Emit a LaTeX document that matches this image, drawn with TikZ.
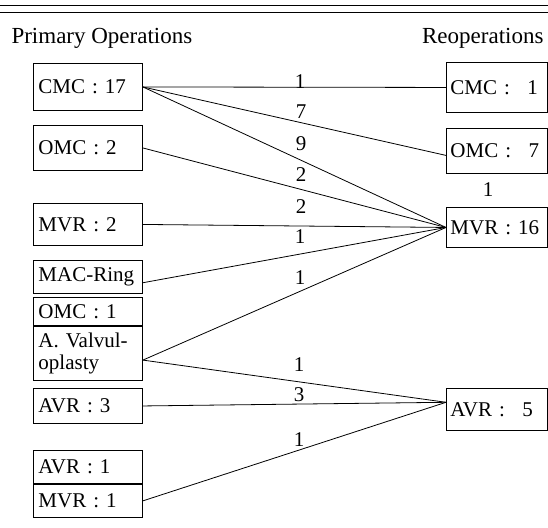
\documentclass[tikz,border=0pt]{standalone}
\usepackage{fontspec}
\setmainfont{Liberation Serif}
\usetikzlibrary{positioning}
\exhyphenpenalty=10000

\begin{document}
\begin{tikzpicture}[x=1pt, y=-1pt,
  font=\fontsize{21}{22.5}\selectfont,
  pbox/.style={draw, line width=0.9pt, anchor=north west, inner xsep=5pt, inner ysep=0pt, text width=99pt, align=left},
  rbox/.style={draw, line width=0.9pt, anchor=north west, inner xsep=4pt, inner ysep=0pt, text width=93pt, align=left},
  ln/.style={line width=0.8pt},
  num/.style={inner sep=0pt}]
\useasboundingbox (0,0) rectangle (548,527);
% ---- double rule and headings
\draw[line width=0.7pt] (0,5) -- (548,5);
\draw[line width=1.3pt] (0,12.5) -- (548,12.5);
\node[anchor=base west, font=\fontsize{23}{25}\selectfont] (hprim) at (8,44) {Primary Operations};
\node[anchor=base east, font=\fontsize{23}{25}\selectfont] (hreop) at (547,44) {Reoperations};
% ---- primary operations (left column)
\node[pbox, minimum height=47pt] (cmc17) at (33,63) {CMC : 17};
\node[pbox, minimum height=45pt] (omc2) at (33,125) {OMC : 2};
\node[pbox, minimum height=42pt] (mvr2) at (33,203) {MVR : 2};
\node[pbox, minimum height=33pt] (macring) at (33,260) {MAC-Ring};
\node[pbox, minimum height=28pt] (omc1) at (33,297) {OMC : 1};
\node[pbox, minimum height=54pt] (avalv) at (omc1.south west) {A. Valvul-\\oplasty};
\node[pbox, minimum height=35pt] (avr3) at (33,388) {AVR : 3};
\node[pbox, minimum height=33pt] (avr1) at (33,450) {AVR : 1};
\node[pbox, minimum height=33pt] (mvr1) at (avr1.south west) {MVR : 1};
% ---- reoperations (right column)
\node[rbox, minimum height=50pt] (cmc1) at (446,62) {CMC : \hphantom{0}1};
\node[rbox, minimum height=45pt] (omc7) at (446,128) {OMC : \hphantom{0}7};
\node[rbox, minimum height=40pt] (mvr16) at (446,207) {MVR : 16};
\node[rbox, minimum height=42pt] (avr5) at (446,388) {AVR : \hphantom{0}5};
% ---- connectors
\draw[ln] (cmc17.east) -- (cmc1.west);
\draw[ln] (cmc17.east) -- (omc7.185);
\draw[ln] (cmc17.east) -- (mvr16.west);
\draw[ln] (omc2.east) -- (mvr16.west);
\draw[ln] (mvr2.east) -- (mvr16.west);
\draw[ln] (macring.-6) -- (mvr16.west);
\draw[ln] (avalv.-7) -- (mvr16.west);
\draw[ln] (avalv.-7) -- (avr5.172);
\draw[ln] (avr3.east) -- (avr5.172);
\draw[ln] (mvr1.east) -- (avr5.172);
% ---- counts
\node[num] (ncmc) at (300,82) {1};
\node[num] (nomc) at (301,112) {7};
\node[num] (nmvra) at (301,144) {9};
\node[num] (nmvrb) at (301,175) {2};
\node[num] (nmvrc) at (301,207) {2};
\node[num] (nmvrd) at (300,237) {1};
\node[num] (nmvre) at (300,278) {1};
\node[num] (navra) at (299,365) {1};
\node[num] (navrb) at (299,395) {3};
\node[num] (navrc) at (299,440) {1};
\node[num] (nreop) at (488,190) {1};
\end{tikzpicture}
\end{document}
